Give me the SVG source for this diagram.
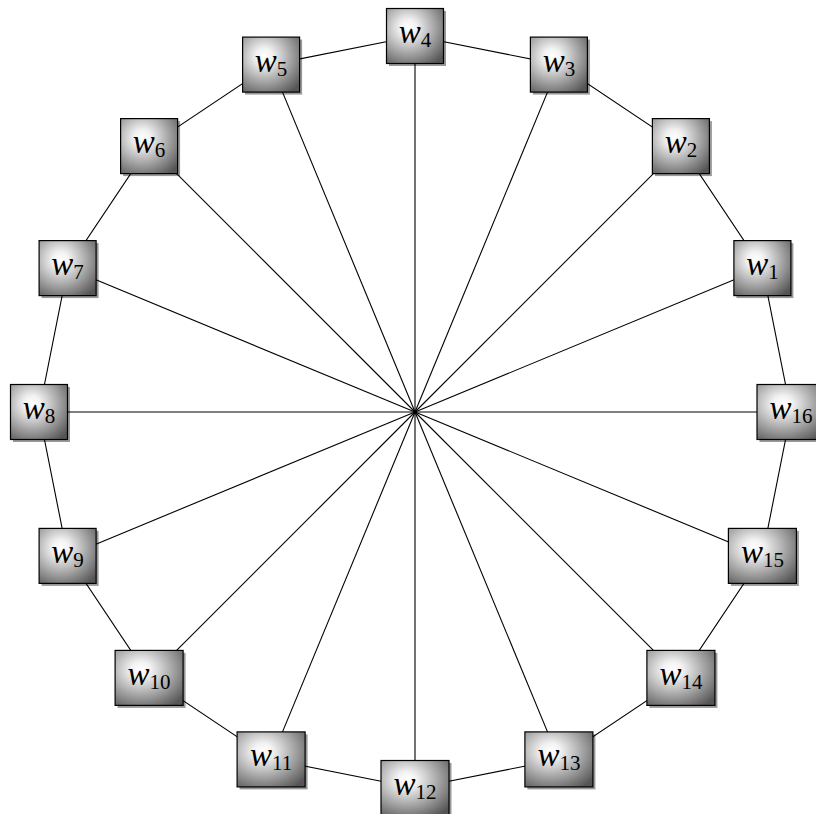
<svg xmlns="http://www.w3.org/2000/svg" width="816" height="814" viewBox="0 0 816 814">
<defs>
<radialGradient id="ball" cx="0.38" cy="0.35" r="0.8" fx="0.38" fy="0.35">
<stop offset="0" stop-color="#ffffff"/>
<stop offset="0.18" stop-color="#f2f2f2"/>
<stop offset="1" stop-color="#555555"/>
</radialGradient>
</defs>
<style>
.e{stroke:#000;stroke-width:1.1;fill:none}
.sh{fill:#000;opacity:0.4}
.bx{fill:url(#ball);stroke:#000;stroke-width:1.2}
.lb{font-family:"Liberation Serif","DejaVu Serif",serif;fill:#000}
.w{font-style:italic;font-size:33px}
.s{font-size:21px}
</style>
<rect width="816" height="814" fill="#fff"/>
<g id="connectors" class="e">
<line x1="415" y1="412" x2="762.4" y2="268.1"/>
<line x1="415" y1="412" x2="680.9" y2="146.1"/>
<line x1="415" y1="412" x2="558.9" y2="64.6"/>
<line x1="415" y1="412" x2="415" y2="36"/>
<line x1="415" y1="412" x2="271.1" y2="64.6"/>
<line x1="415" y1="412" x2="149.1" y2="146.1"/>
<line x1="415" y1="412" x2="67.6" y2="268.1"/>
<line x1="415" y1="412" x2="39" y2="412"/>
<line x1="415" y1="412" x2="67.6" y2="555.9"/>
<line x1="415" y1="412" x2="149.1" y2="677.9"/>
<line x1="415" y1="412" x2="271.1" y2="759.4"/>
<line x1="415" y1="412" x2="415" y2="788"/>
<line x1="415" y1="412" x2="558.9" y2="759.4"/>
<line x1="415" y1="412" x2="680.9" y2="677.9"/>
<line x1="415" y1="412" x2="762.4" y2="555.9"/>
<line x1="415" y1="412" x2="791" y2="412"/>
<polygon points="762.4,268.1 680.9,146.1 558.9,64.6 415,36 271.1,64.6 149.1,146.1 67.6,268.1 39,412 67.6,555.9 149.1,677.9 271.1,759.4 415,788 558.9,759.4 680.9,677.9 762.4,555.9 791,412"/>
</g>
<g id="w1"><rect class="sh" x="736.4" y="243.1" width="57" height="55"/><rect class="bx" x="733.9" y="240.6" width="57" height="55"/><text class="lb" x="762.4" y="275.1" text-anchor="middle"><tspan class="w">w</tspan><tspan class="s" dy="4">1</tspan></text></g>
<g id="w2"><rect class="sh" x="654.9" y="121.1" width="57" height="55"/><rect class="bx" x="652.4" y="118.6" width="57" height="55"/><text class="lb" x="680.9" y="153.1" text-anchor="middle"><tspan class="w">w</tspan><tspan class="s" dy="4">2</tspan></text></g>
<g id="w3"><rect class="sh" x="532.9" y="39.6" width="57" height="55"/><rect class="bx" x="530.4" y="37.1" width="57" height="55"/><text class="lb" x="558.9" y="71.6" text-anchor="middle"><tspan class="w">w</tspan><tspan class="s" dy="4">3</tspan></text></g>
<g id="w4"><rect class="sh" x="389" y="11" width="57" height="55"/><rect class="bx" x="386.5" y="8.5" width="57" height="55"/><text class="lb" x="415" y="43" text-anchor="middle"><tspan class="w">w</tspan><tspan class="s" dy="4">4</tspan></text></g>
<g id="w5"><rect class="sh" x="245.1" y="39.6" width="57" height="55"/><rect class="bx" x="242.6" y="37.1" width="57" height="55"/><text class="lb" x="271.1" y="71.6" text-anchor="middle"><tspan class="w">w</tspan><tspan class="s" dy="4">5</tspan></text></g>
<g id="w6"><rect class="sh" x="123.1" y="121.1" width="57" height="55"/><rect class="bx" x="120.6" y="118.6" width="57" height="55"/><text class="lb" x="149.1" y="153.1" text-anchor="middle"><tspan class="w">w</tspan><tspan class="s" dy="4">6</tspan></text></g>
<g id="w7"><rect class="sh" x="41.6" y="243.1" width="57" height="55"/><rect class="bx" x="39.1" y="240.6" width="57" height="55"/><text class="lb" x="67.6" y="275.1" text-anchor="middle"><tspan class="w">w</tspan><tspan class="s" dy="4">7</tspan></text></g>
<g id="w8"><rect class="sh" x="13" y="387" width="57" height="55"/><rect class="bx" x="10.5" y="384.5" width="57" height="55"/><text class="lb" x="39" y="419" text-anchor="middle"><tspan class="w">w</tspan><tspan class="s" dy="4">8</tspan></text></g>
<g id="w9"><rect class="sh" x="41.6" y="530.9" width="57" height="55"/><rect class="bx" x="39.1" y="528.4" width="57" height="55"/><text class="lb" x="67.6" y="562.9" text-anchor="middle"><tspan class="w">w</tspan><tspan class="s" dy="4">9</tspan></text></g>
<g id="w10"><rect class="sh" x="117.6" y="652.9" width="68" height="55"/><rect class="bx" x="115.1" y="650.4" width="68" height="55"/><text class="lb" x="149.1" y="684.9" text-anchor="middle"><tspan class="w">w</tspan><tspan class="s" dy="4">10</tspan></text></g>
<g id="w11"><rect class="sh" x="239.6" y="734.4" width="68" height="55"/><rect class="bx" x="237.1" y="731.9" width="68" height="55"/><text class="lb" x="271.1" y="766.4" text-anchor="middle"><tspan class="w">w</tspan><tspan class="s" dy="4">11</tspan></text></g>
<g id="w12"><rect class="sh" x="383.5" y="763" width="68" height="55"/><rect class="bx" x="381" y="760.5" width="68" height="55"/><text class="lb" x="415" y="795" text-anchor="middle"><tspan class="w">w</tspan><tspan class="s" dy="4">12</tspan></text></g>
<g id="w13"><rect class="sh" x="527.4" y="734.4" width="68" height="55"/><rect class="bx" x="524.9" y="731.9" width="68" height="55"/><text class="lb" x="558.9" y="766.4" text-anchor="middle"><tspan class="w">w</tspan><tspan class="s" dy="4">13</tspan></text></g>
<g id="w14"><rect class="sh" x="649.4" y="652.9" width="68" height="55"/><rect class="bx" x="646.9" y="650.4" width="68" height="55"/><text class="lb" x="680.9" y="684.9" text-anchor="middle"><tspan class="w">w</tspan><tspan class="s" dy="4">14</tspan></text></g>
<g id="w15"><rect class="sh" x="730.9" y="530.9" width="68" height="55"/><rect class="bx" x="728.4" y="528.4" width="68" height="55"/><text class="lb" x="762.4" y="562.9" text-anchor="middle"><tspan class="w">w</tspan><tspan class="s" dy="4">15</tspan></text></g>
<g id="w16"><rect class="sh" x="759.5" y="387" width="68" height="55"/><rect class="bx" x="757" y="384.5" width="68" height="55"/><text class="lb" x="791" y="419" text-anchor="middle"><tspan class="w">w</tspan><tspan class="s" dy="4">16</tspan></text></g>
</svg>
